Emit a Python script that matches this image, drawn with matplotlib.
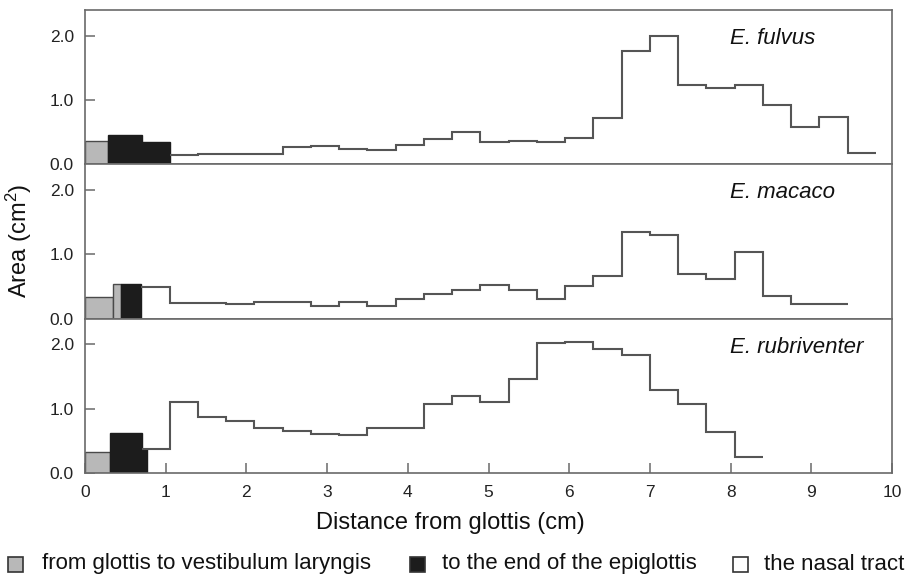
import numpy as np
import matplotlib
matplotlib.use('Agg')
import matplotlib.pyplot as plt
from matplotlib.patches import Rectangle

plt.rcParams['font.family'] = ['Liberation Sans', 'DejaVu Sans']
plt.rcParams['mathtext.default'] = 'regular'

# species names, one panel each
species = ['E. fulvus', 'E. macaco', 'E. rubriventer']

# glottis -> vestibulum laryngis (grey), edges in cm and areas in cm2
fulvus_gray_edges = [0.0, 0.28]
fulvus_gray = [0.37]
macaco_gray_edges = [0.0, 0.35, 0.44]
macaco_gray = [0.33, 0.54]
rubri_gray_edges = [0.0, 0.31]
rubri_gray = [0.32]

# to the end of the epiglottis (black)
fulvus_black_edges = [0.28, 0.71, 1.05]
fulvus_black = [0.45, 0.35]
macaco_black_edges = [0.44, 0.69]
macaco_black = [0.54]
rubri_black_edges = [0.31, 0.71, 0.77]
rubri_black = [0.62, 0.37]

# nasal tract (outline only)
fulvus_nasal_edges = [1.05, 1.40, 1.75, 2.10, 2.45, 2.80, 3.15, 3.50, 3.85, 4.20,
                      4.55, 4.90, 5.25, 5.60, 5.95, 6.30, 6.65, 7.00, 7.35, 7.70,
                      8.05, 8.40, 8.75, 9.10, 9.45, 9.80]
fulvus_nasal = [0.14, 0.155, 0.155, 0.155, 0.27, 0.285, 0.245, 0.23, 0.295, 0.39,
                0.51, 0.35, 0.36, 0.34, 0.41, 0.72, 1.77, 1.99, 1.24, 1.18,
                1.23, 0.93, 0.58, 0.74, 0.17]

macaco_nasal_edges = [0.69, 1.05, 1.40, 1.75, 2.10, 2.45, 2.80, 3.15, 3.50, 3.85,
                      4.20, 4.55, 4.90, 5.25, 5.60, 5.95, 6.30, 6.65, 7.00, 7.35,
                      7.70, 8.05, 8.40, 8.75, 9.10, 9.45]
macaco_nasal = [0.50, 0.245, 0.245, 0.23, 0.26, 0.26, 0.20, 0.255, 0.20, 0.30,
                0.385, 0.45, 0.52, 0.44, 0.31, 0.505, 0.66, 1.35, 1.30, 0.69,
                0.61, 1.03, 0.35, 0.235, 0.235]

rubri_nasal_edges = [0.71, 1.05, 1.40, 1.75, 2.10, 2.45, 2.80, 3.15, 3.50, 3.85,
                     4.20, 4.55, 4.90, 5.25, 5.60, 5.95, 6.30, 6.65, 7.00, 7.35,
                     7.70, 8.05, 8.40]
rubri_nasal = [0.37, 1.10, 0.875, 0.81, 0.695, 0.66, 0.61, 0.59, 0.695, 0.705,
               1.07, 1.20, 1.11, 1.46, 2.02, 2.04, 1.93, 1.835, 1.29, 1.08,
               0.64, 0.25]

y_ticks = [0, 1, 2]
y_ticklabels = ['0.0', '1.0', '2.0']
x_ticks = [0, 1, 2, 3, 4, 5, 6, 7, 8, 9, 10]

legend_labels = ['from glottis to vestibulum laryngis',
                 'to the end of the epiglottis',
                 'the nasal tract']

gray_c = '#b8b8b8'
black_c = '#1c1c1c'
line_c = '#555555'
spine_c = '#6a6a6a'

panels = [
    (fulvus_gray_edges, fulvus_gray, fulvus_black_edges, fulvus_black,
     fulvus_nasal_edges, fulvus_nasal),
    (macaco_gray_edges, macaco_gray, macaco_black_edges, macaco_black,
     macaco_nasal_edges, macaco_nasal),
    (rubri_gray_edges, rubri_gray, rubri_black_edges, rubri_black,
     rubri_nasal_edges, rubri_nasal),
]

W, H = 909, 575
fig, axes = plt.subplots(3, 1, sharex=True, figsize=(W / 100, H / 100), dpi=100)
fig.subplots_adjust(left=85 / W, right=892 / W, top=1 - 10 / H,
                    bottom=1 - 473 / H, hspace=0)

for ax, name, (ge, gv, be, bv, ne, nv) in zip(axes, species, panels):
    ge = np.array(ge)
    be = np.array(be)
    ax.bar(ge[:-1], gv, width=np.diff(ge), align='edge', color=gray_c,
           edgecolor='#4a4a4a', linewidth=1.0, zorder=2)
    ax.bar(be[:-1], bv, width=np.diff(be), align='edge', color=black_c,
           edgecolor=black_c, linewidth=1.0, zorder=2)
    ax.stairs(nv, ne, baseline=None, color=line_c, linewidth=1.5, zorder=3)

    ax.set_xlim(0, 10)
    ax.set_ylim(0, 2.4)
    ax.set_yticks(y_ticks)
    ax.set_yticklabels(y_ticklabels)
    ax.tick_params(axis='y', direction='in', length=7, width=1.1, color=spine_c,
                   labelsize=12.5, pad=8, labelcolor='#222222')
    for s in ax.spines.values():
        s.set_color(spine_c)
        s.set_linewidth(1.2)
    ax.text(0.799, 0.815, name, transform=ax.transAxes, style='italic',
            fontsize=16, ha='left', va='center', color='#111111')

for ax in axes[:-1]:
    ax.tick_params(axis='x', bottom=False, labelbottom=False)

axes[-1].set_xticks(x_ticks)
axes[-1].tick_params(axis='x', direction='in', length=7, width=1.1,
                     color=spine_c, labelsize=12.5, pad=9, labelcolor='#222222')

fig.text(450 / W, 1 - 523 / H, 'Distance from glottis (cm)', fontsize=17,
         ha='center', va='center', color='#111111')
fig.text(19 / W, 1 - 241 / H, 'Area (cm$^2$)', fontsize=17, rotation=90,
         ha='center', va='center', color='#111111')

# legend row
box_x = [8, 410, 733]
text_x = [42, 442, 764]
box_fc = [gray_c, black_c, 'white']
for bx, tx, fc, lab in zip(box_x, text_x, box_fc, legend_labels):
    fig.add_artist(Rectangle((bx / W, 1 - 572 / H), 15 / W, 15 / H,
                             transform=fig.transFigure, facecolor=fc,
                             edgecolor='#333333', linewidth=1.2))
    fig.text(tx / W, 1 - 564 / H, lab, fontsize=16, ha='left',
             va='center', color='#111111')

fig.savefig('out.png', dpi=100)
